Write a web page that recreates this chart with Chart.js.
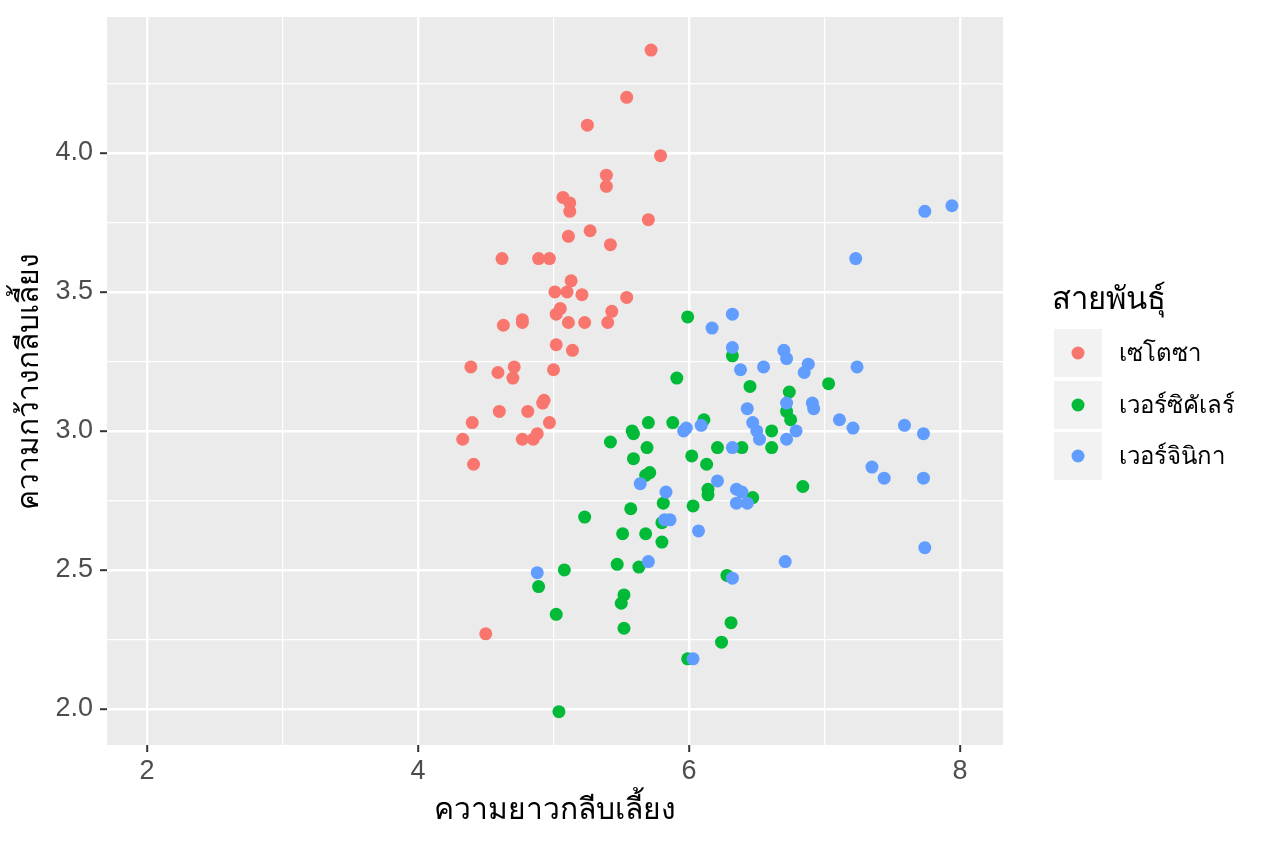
<!DOCTYPE html>
<html>
<head>
<meta charset="utf-8">
<script src="https://cdn.jsdelivr.net/npm/chart.js@4.4.1/dist/chart.umd.min.js"></script>
<style>
html,body{margin:0;padding:0;background:#ffffff;}
#wrap{width:1264px;height:843px;position:relative;}
</style>
</head>
<body>
<div id="wrap"><canvas id="c" width="1264" height="843"></canvas></div>
<script>
// ---- data ----
const speciesNames = ["เซโตซา", "เวอร์ซิคัเลร์", "เวอร์จินิกา"];
const legendTitle = "สายพันธุ์";
const xTitle = "ความยาวกลีบเลี้ยง";
const yTitle = "ความกว้างกลีบเลี้ยง";
const xTickValues = [2, 3, 4, 5, 6, 7, 8];
const xTickLabels = ["2", "", "4", "", "6", "", "8"];
const yTickValues = [2.0, 2.25, 2.5, 2.75, 3.0, 3.25, 3.5, 3.75, 4.0, 4.25];
const yTickLabels = ["2.0", "", "2.5", "", "3.0", "", "3.5", "", "4.0", ""];

const setosaX = [5.72,5.54,5.25,5.79,5.39,5.39,5.07,5.12,5.12,5.70,5.27,5.11,5.42,4.62,4.89,4.97,5.13,5.01,5.10,5.21,5.54,5.05,5.02,5.43,5.40,4.63,4.77,4.77,5.11,5.23,5.02,5.14,4.39,4.59,4.71,4.70,5.00,4.93,4.92,4.60,4.81,4.97,4.40,4.77,4.85,4.88,4.33,4.41,4.50];
const setosaY = [4.37,4.20,4.10,3.99,3.92,3.88,3.84,3.82,3.79,3.76,3.72,3.70,3.67,3.62,3.62,3.62,3.54,3.50,3.50,3.49,3.48,3.44,3.42,3.43,3.39,3.38,3.40,3.39,3.39,3.39,3.31,3.29,3.23,3.21,3.23,3.19,3.22,3.11,3.10,3.07,3.07,3.03,3.03,2.97,2.97,2.99,2.97,2.88,2.27];

const versicolorX = [5.99,6.32,5.91,6.45,7.03,6.74,6.72,6.75,6.61,6.61,6.11,5.70,5.88,5.58,5.59,5.42,5.69,6.21,6.39,6.02,5.59,6.13,5.71,5.68,6.14,6.14,6.47,6.84,5.81,5.57,6.03,5.23,5.80,5.51,5.68,5.80,5.47,5.63,5.08,4.89,5.52,5.50,5.02,5.52,6.28,6.31,6.24,5.99,5.04];
const versicolorY = [3.41,3.27,3.19,3.16,3.17,3.14,3.07,3.04,3.00,2.94,3.04,3.03,3.03,3.00,2.99,2.96,2.94,2.94,2.94,2.91,2.90,2.88,2.85,2.84,2.79,2.77,2.76,2.80,2.74,2.72,2.73,2.69,2.67,2.63,2.63,2.60,2.52,2.51,2.50,2.44,2.41,2.38,2.34,2.29,2.48,2.31,2.24,2.18,1.99];

const virginicaX = [7.74,7.94,7.23,6.32,6.17,6.32,6.70,6.72,6.88,6.85,7.24,6.38,6.55,6.72,6.91,6.92,6.43,6.47,6.50,6.52,6.79,6.72,7.11,7.21,7.59,7.73,5.96,5.98,6.09,6.32,7.35,7.44,7.73,7.74,6.71,6.21,6.35,6.39,6.35,6.43,5.64,5.83,5.82,5.86,6.07,5.70,6.32,6.03,4.88];
const virginicaY = [3.79,3.81,3.62,3.42,3.37,3.30,3.29,3.26,3.24,3.21,3.23,3.22,3.23,3.10,3.10,3.08,3.08,3.03,3.00,2.97,3.00,2.97,3.04,3.01,3.02,2.99,3.00,3.01,3.02,2.94,2.87,2.83,2.83,2.58,2.53,2.82,2.79,2.78,2.74,2.74,2.81,2.78,2.68,2.68,2.64,2.53,2.47,2.18,2.49];

const colors = ["#F8766D", "#00BA38", "#619CFF"];

// ---- build ----
function pts(xs, ys){ return xs.map((x,i)=>({x:x, y:ys[i]})); }
const seriesX = [setosaX, versicolorX, virginicaX];
const seriesY = [setosaY, versicolorY, virginicaY];

const FONT = "'Liberation Sans', 'DejaVu Sans', 'Noto Sans', sans-serif";

const panelPlugin = {
  id: 'panel',
  beforeDraw(chart){
    const {ctx, chartArea:a} = chart;
    ctx.save();
    ctx.fillStyle = '#EBEBEB';
    ctx.fillRect(a.left, a.top, a.right-a.left, a.bottom-a.top);
    ctx.restore();
  },
  afterDraw(chart){
    const ctx = chart.ctx;
    ctx.save();
    // legend
    ctx.fillStyle = '#000000';
    ctx.font = "31px " + FONT;
    ctx.textBaseline = 'middle';
    ctx.textAlign = 'left';
    ctx.fillText(legendTitle, 1052, 300);
    const boxTop = [329, 381, 432];
    for (let i=0;i<3;i++){
      ctx.fillStyle = '#F2F2F2';
      ctx.fillRect(1054, boxTop[i], 48, 48);
      ctx.beginPath();
      ctx.arc(1078, boxTop[i]+24, 6.5, 0, Math.PI*2);
      ctx.fillStyle = colors[i];
      ctx.fill();
      ctx.fillStyle = '#000000';
      ctx.font = "24px " + FONT;
      ctx.fillText(speciesNames[i], 1119, boxTop[i]+25);
    }
    ctx.restore();
  }
};

const isMajor = (ctx, vals, labels) => {
  const v = ctx.tick ? ctx.tick.value : null;
  const i = vals.findIndex(t => Math.abs(t - v) < 1e-6);
  return i >= 0 && labels[i] !== "";
};

new Chart(document.getElementById('c'), {
  type: 'scatter',
  data: {
    datasets: speciesNames.map((n,i)=>({
      label: n,
      data: pts(seriesX[i], seriesY[i]),
      backgroundColor: colors[i],
      borderWidth: 0,
      pointRadius: 6.5,
      pointHoverRadius: 6.5,
      order: 3 - i
    }))
  },
  options: {
    responsive: false,
    animation: false,
    devicePixelRatio: 1,
    layout: { padding: { top: 17, right: 261, bottom: 0, left: 0 } },
    plugins: { legend: { display: false }, tooltip: { enabled: false } },
    scales: {
      x: {
        type: 'linear',
        min: 1.705, max: 8.317,
        afterBuildTicks: s => { s.ticks = xTickValues.map(v=>({value:v})); },
        afterFit: s => { s.height = 98; s.paddingLeft = 0; s.paddingRight = 0; },
        border: { display: false },
        grid: {
          color: '#FFFFFF',
          lineWidth: c => isMajor(c, xTickValues, xTickLabels) ? 2.4 : 1.2,
          drawTicks: true,
          tickLength: 7,
          tickWidth: 2,
          tickColor: c => isMajor(c, xTickValues, xTickLabels) ? '#333333' : 'rgba(0,0,0,0)'
        },
        ticks: {
          autoSkip: false,
          maxRotation: 0,
          padding: 3,
          color: '#4D4D4D',
          font: { family: FONT, size: 27 },
          callback: (v, i) => xTickLabels[i]
        },
        title: {
          display: true, text: xTitle, color: '#000000',
          font: { family: FONT, size: 30 },
          padding: { top: 0, bottom: 14 }
        }
      },
      y: {
        type: 'linear',
        min: 1.87, max: 4.489,
        afterBuildTicks: s => { s.ticks = yTickValues.map(v=>({value:v})); },
        afterFit: s => { s.width = 107; s.paddingTop = 0; s.paddingBottom = 0; },
        border: { display: false },
        grid: {
          color: '#FFFFFF',
          lineWidth: c => isMajor(c, yTickValues, yTickLabels) ? 2.4 : 1.2,
          drawTicks: true,
          tickLength: 7,
          tickWidth: 2,
          tickColor: c => isMajor(c, yTickValues, yTickLabels) ? '#333333' : 'rgba(0,0,0,0)'
        },
        ticks: {
          autoSkip: false,
          padding: 7,
          color: '#4D4D4D',
          font: { family: FONT, size: 27 },
          callback: (v, i) => yTickLabels[i]
        },
        title: {
          display: true, text: yTitle, color: '#000000',
          font: { family: FONT, size: 30 },
          padding: { top: 12, bottom: 0 }
        }
      }
    }
  },
  plugins: [panelPlugin]
});
</script>
</body>
</html>
